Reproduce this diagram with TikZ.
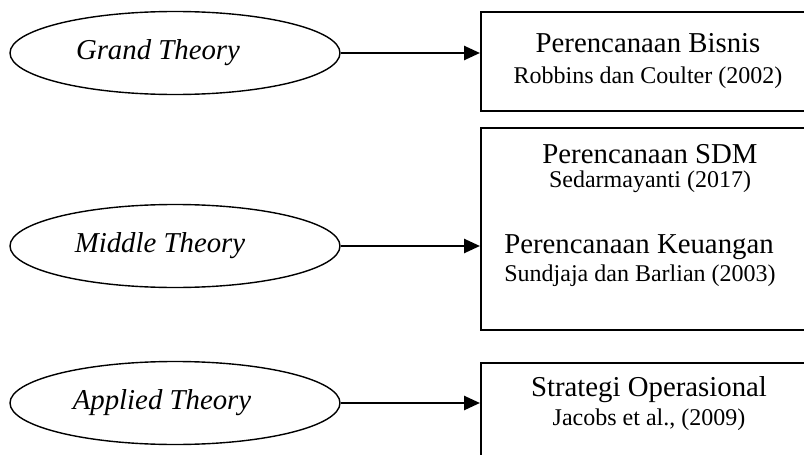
\documentclass[tikz,border=0pt]{standalone}
\usepackage{fontspec}
\setmainfont{Liberation Serif}
\usetikzlibrary{shapes.geometric,arrows.meta}
\begin{document}
\begin{tikzpicture}[x=0.5pt,y=-0.5pt,
  theory/.style={draw,ellipse,line width=0.7pt,minimum width=165pt,minimum height=41.5pt,inner sep=0pt,font=\fontsize{14.4}{16}\selectfont\itshape},
  refbox/.style={draw,line width=0.75pt,inner sep=0pt,anchor=north west},
  title/.style={font=\fontsize{14.4}{16}\selectfont,inner sep=0pt},
  cite/.style={font=\fontsize{12}{14}\selectfont,inner sep=0pt},
  link/.style={line width=1.3pt,-{Triangle[length=8pt,width=7pt]}}]
\useasboundingbox (0,0) rectangle (804,455);
\clip (0,0) rectangle (804,455);
% ellipses
\node[theory] (e1) at (175,53) {Grand Theory\kern17pt\null};
\node[theory] (e2) at (175,246) {Middle Theory\kern15pt\null};
\node[theory] (e3) at (175,403) {Applied Theory\kern13pt\null};
% boxes
\node[refbox,minimum width=170pt,minimum height=49.5pt] (b1) at (480,11) {};
\node[refbox,minimum width=170pt,minimum height=101pt] (b2) at (480,127) {};
\node[refbox,minimum width=170pt,minimum height=60pt] (b3) at (480,362) {};
% texts
\node[title] (t1) at (648,43) {Perencanaan Bisnis};
\node[cite] (c1) at (648,78) {Robbins dan Coulter (2002)};
\node[title] (t2) at (650,154) {Perencanaan SDM};
\node[cite] (c2) at (650,182) {Sedarmayanti (2017)};
\node[title] (t3) at (639,247) {Perencanaan Keuangan};
\node[cite] (c3) at (640,276) {Sundjaja dan Barlian (2003)};
\node[title] (t4) at (649,390) {Strategi Operasional};
\node[cite] (c4) at (649,420) {Jacobs et al., (2009)};
% arrows
\draw[link] (e1.east) -- (e1.east -| b1.west);
\draw[link] (e2.east) -- (e2.east -| b2.west);
\draw[link] (e3.east) -- (e3.east -| b3.west);
\end{tikzpicture}
\end{document}
